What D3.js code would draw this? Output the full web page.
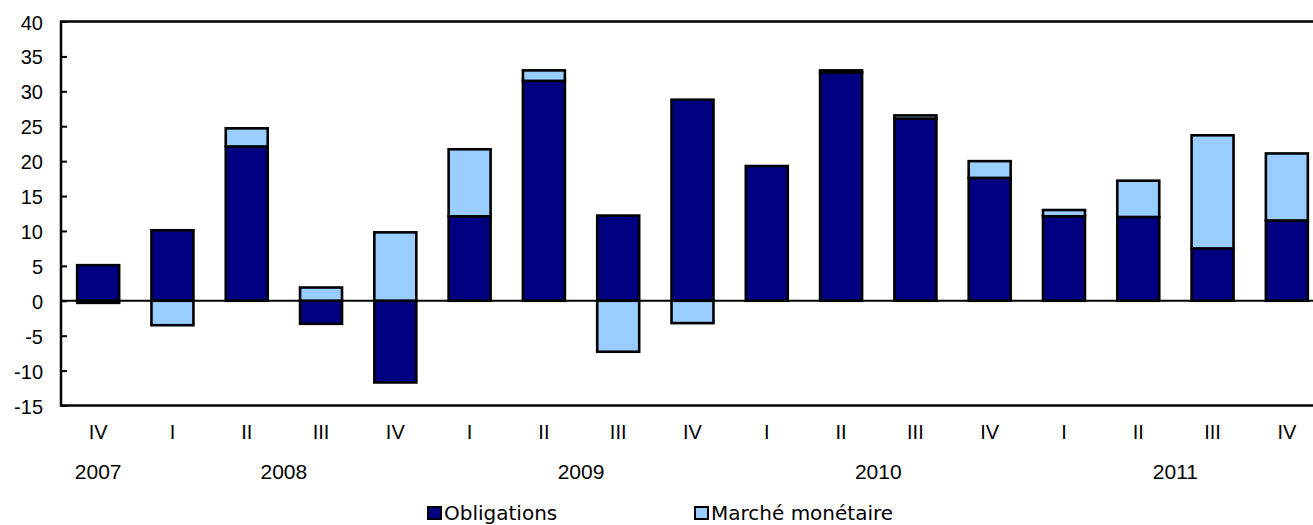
<!DOCTYPE html>
<html>
<head>
<meta charset="utf-8">
<script src="https://cdn.jsdelivr.net/npm/d3@7/dist/d3.min.js"></script>
<style>
  html, body { margin: 0; padding: 0; background: #fff; }
  svg { display: block; }
  text { font-family: "Liberation Sans", Arial, sans-serif; fill: #000; }
</style>
</head>
<body>
<svg id="chart" width="1313" height="525"></svg>
<script>
// ---- Data ----
const quarters = ["IV","I","II","III","IV","I","II","III","IV","I","II","III","IV","I","II","III","IV"];
const years = [
  { label: "2007", from: 0, to: 0 },
  { label: "2008", from: 1, to: 4 },
  { label: "2009", from: 5, to: 8 },
  { label: "2010", from: 9, to: 12 },
  { label: "2011", from: 13, to: 16 }
];
const obligations = [5.1, 10.1, 22.1, -3.3, -11.7, 12.1, 31.5, 12.2, 28.8, 19.3, 32.7, 26.1, 17.6, 12.1, 12.0, 7.5, 11.5];
const marcheMonetaire = [-0.3, -3.5, 2.6, 1.9, 9.8, 9.6, 1.5, -7.3, -3.2, 0.0, 0.3, 0.45, 2.4, 0.9, 5.2, 16.2, 9.6];
const seriesNames = ["Obligations", "Marché monétaire"];
const seriesColors = ["#000080", "#99CCFF"];
const yTicks = [-15, -10, -5, 0, 5, 10, 15, 20, 25, 30, 35, 40];

// ---- Layout ----
const svg = d3.select("#chart");
const pLeft = 61, pRight = 1324, pTop = 21.5, pBottom = 405.5;

const x = d3.scaleBand()
  .domain(d3.range(quarters.length))
  .range([pLeft, pRight])
  .paddingInner(0.435)
  .paddingOuter(0.2175);

const y = d3.scaleLinear().domain([-15, 40]).range([pBottom, pTop]);

const rows = quarters.map((q, i) => ({ i, s0: obligations[i], s1: marcheMonetaire[i] }));
const stack = d3.stack().keys(["s0", "s1"]).offset(d3.stackOffsetDiverging);
const stacked = stack(rows);

// Bars
stacked.forEach((layer, k) => {
  svg.append("g")
    .selectAll("rect")
    .data(layer)
    .join("rect")
    .attr("x", d => x(d.data.i))
    .attr("width", x.bandwidth())
    .attr("y", d => y(Math.max(d[0], d[1])))
    .attr("height", d => Math.abs(y(d[0]) - y(d[1])))
    .attr("fill", seriesColors[k])
    .attr("stroke", "#000")
    .attr("stroke-width", 2.6);
});

// Zero line
svg.append("line")
  .attr("x1", pLeft).attr("x2", 1313)
  .attr("y1", y(0)).attr("y2", y(0))
  .attr("stroke", "#000").attr("stroke-width", 2);

// Frame
svg.append("rect")
  .attr("x", pLeft).attr("y", pTop)
  .attr("width", pRight - pLeft).attr("height", pBottom - pTop)
  .attr("fill", "none").attr("stroke", "#000").attr("stroke-width", 2.5);

// Y axis (ticks inward)
const yAxis = d3.axisRight(y).tickValues(yTicks).tickSize(6).tickFormat("");
const ga = svg.append("g").attr("transform", `translate(${pLeft},0)`).call(yAxis);
ga.select(".domain").remove();
ga.selectAll(".tick line").attr("stroke", "#000").attr("stroke-width", 2);

svg.append("g")
  .selectAll("text")
  .data(yTicks)
  .join("text")
  .attr("x", 43)
  .attr("y", d => y(d) + 8)
  .attr("text-anchor", "end")
  .style("font-size", "20px")
  .text(d => d);

// Quarter labels
svg.append("g")
  .selectAll("text")
  .data(quarters)
  .join("text")
  .attr("x", (d, i) => x(i) + x.bandwidth() / 2)
  .attr("y", 439)
  .attr("text-anchor", "middle")
  .style("font-size", "20px")
  .text(d => d);

// Year labels
svg.append("g")
  .selectAll("text")
  .data(years)
  .join("text")
  .attr("x", d => (x(d.from) + x(d.to) + x.bandwidth()) / 2)
  .attr("y", 479)
  .attr("text-anchor", "middle")
  .style("font-size", "21px")
  .text(d => d.label);

// Legend
const legendX = [427, 694];
const lg = svg.append("g");
seriesNames.forEach((name, k) => {
  lg.append("rect")
    .attr("x", legendX[k] + 1).attr("y", 507)
    .attr("width", 13).attr("height", 12)
    .attr("fill", seriesColors[k])
    .attr("stroke", "#000").attr("stroke-width", 2);
  lg.append("text")
    .attr("x", legendX[k] + 17).attr("y", 520)
    .style("font-family", "'DejaVu Sans', Verdana, sans-serif")
    .style("font-size", "20px")
    .text(name);
});
</script>
</body>
</html>
